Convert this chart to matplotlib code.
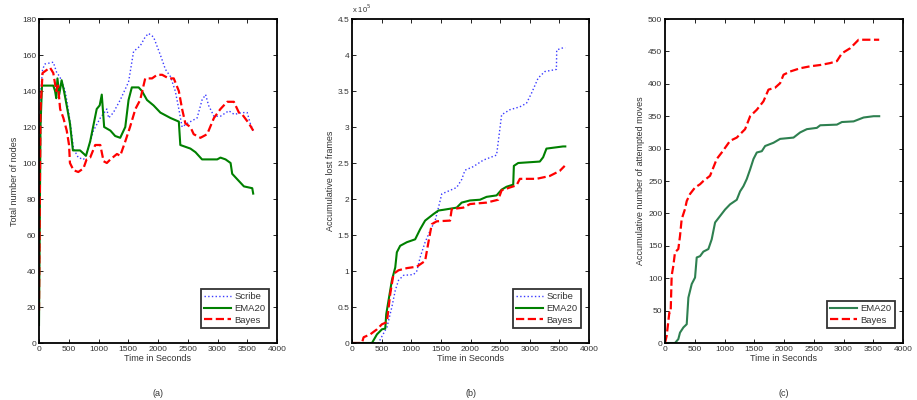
import numpy as np
import matplotlib
matplotlib.use("Agg")
import matplotlib.pyplot as plt
from matplotlib.ticker import FuncFormatter

plt.rcParams['font.family'] = ['Liberation Sans', 'DejaVu Sans']

# (a) total number of nodes
a_scribe_t = [0, 30, 60, 100, 240, 300, 350, 440, 490, 535, 580, 660, 750, 830, 915, 1030, 1140, 1170,
              1250, 1365, 1505, 1590, 1700, 1785, 1840, 1925, 2040, 2125, 2210, 2290, 2350, 2405, 2490,
              2657, 2740, 2800, 2850, 2940, 3050, 3190, 3280, 3415, 3500, 3550, 3600]
a_scribe_v = [12, 140, 152, 155, 156, 150, 148, 140, 130, 120, 108, 103, 102, 108, 118, 125, 130, 125,
              128, 135, 145, 162, 165, 170, 172, 170, 160, 152, 148, 140, 130, 120, 122,
              125, 135, 138, 132, 126, 126, 129, 127, 128, 128, 122, 118]
a_ema_t = [0, 25, 50, 240, 270, 290, 310, 340, 380, 420, 465, 520, 570, 690, 790, 860, 970, 1020, 1055,
           1095, 1200, 1280, 1365, 1450, 1505, 1560, 1675, 1730, 1815, 1925, 2040, 2210, 2350, 2375,
           2545, 2630, 2740, 2850, 2995, 3050, 3135, 3220, 3247, 3331, 3444, 3584, 3600]
a_ema_v = [10, 120, 143, 143, 140, 136, 147, 138, 146, 140, 132, 122, 107, 107, 104, 112, 130, 132, 138,
           120, 118, 115, 114, 120, 135, 142, 142, 140, 135, 132, 128, 125, 123, 110,
           108, 106, 102, 102, 102, 103, 102, 100, 94, 91, 87, 86, 83]
a_bayes_t = [0, 25, 60, 185, 240, 290, 320, 355, 410, 466, 505, 520, 580, 660, 747, 800, 860, 945, 1030,
             1085, 1140, 1200, 1310, 1365, 1450, 1530, 1620, 1700, 1785, 1900, 1985, 2070, 2180, 2265,
             2350, 2405, 2460, 2545, 2600, 2713, 2826, 2940, 3050, 3163, 3275, 3360, 3415, 3528, 3600]
a_bayes_v = [18, 130, 150, 153, 150, 140, 143, 130, 125, 118, 110, 100, 96, 95, 97, 102, 103, 110, 110,
             101, 100, 102, 105, 104, 112, 120, 130, 135, 147, 147, 149, 149, 147, 147,
             140, 130, 122, 120, 116, 114, 116, 125, 130, 134, 134, 128, 127, 122, 118]

# (b) accumulative lost frames
b_scribe_t = [0, 450, 477, 590, 673, 730, 785, 870, 1038, 1094, 1150, 1234, 1318, 1403, 1459, 1515,
              1599, 1767, 1851, 1907, 2048, 2216, 2440, 2480, 2525, 2665, 2833, 2945, 3030, 3142, 3254,
              3450, 3455, 3562, 3600]
b_scribe_v = [0, 0, 5000, 22000, 50000, 73000, 87000, 94000, 95000, 100000, 119000, 140000, 156000,
              170000, 188000, 207000, 210000, 216000, 227000, 240000, 245000, 254000, 261000, 287000,
              317000, 324000, 328000, 333000, 347000, 368000, 377000, 380000, 407000, 410000, 410000]
b_ema_t = [0, 337, 421, 505, 561, 578, 673, 730, 757, 813, 926, 1066, 1150, 1234, 1374, 1459, 1543,
           1767, 1851, 1992, 2160, 2272, 2440, 2525, 2608, 2721, 2732, 2805, 3170, 3226, 3282, 3562, 3600]
b_ema_v = [0, 0, 12000, 19000, 20000, 40000, 87000, 105000, 126000, 135000, 140000, 144000, 158000,
           170000, 179000, 184000, 185000, 188000, 195000, 198000, 199000, 203000, 205000, 213000,
           217000, 220000, 246000, 250000, 252000, 258000, 270000, 273000, 273000]
b_bayes_t = [0, 168, 196, 308, 421, 505, 589, 645, 701, 785, 926, 1094, 1234, 1290, 1346, 1430, 1655,
             1683, 1879, 1992, 2272, 2468, 2525, 2665, 2777, 2833, 3114, 3338, 3506, 3590]
b_bayes_v = [0, 0, 8000, 12000, 19000, 26000, 29000, 68000, 96000, 101000, 104000, 106000, 114000,
             140000, 165000, 169000, 170000, 186000, 188000, 193000, 195000, 199000, 212000, 216000,
             219000, 228000, 228000, 232000, 239000, 246000]

# (c) accumulative number of attempted moves
c_ema_t = [0, 168, 224, 252, 309, 365, 393, 449, 505, 533, 589, 645, 729, 785, 842, 926, 1010, 1094,
           1206, 1262, 1318, 1374, 1431, 1487, 1543, 1627, 1683, 1823, 1935, 2160, 2272, 2384, 2552,
           2609, 2889, 2973, 3170, 3338, 3506, 3600]
c_ema_v = [0, 0, 6, 16, 24, 29, 70, 91, 101, 132, 134, 141, 145, 160, 186, 196, 206, 214,
           221, 234, 242, 253, 268, 284, 294, 296, 304, 309, 315, 317, 325, 330, 332,
           336, 337, 341, 342, 348, 350, 350]
c_bayes_t = [0, 28, 73, 95, 112, 140, 168, 224, 252, 280, 337, 365, 421, 505, 589, 645, 757, 870, 954,
             1094, 1206, 1346, 1431, 1543, 1655, 1739, 1851, 1935, 1992, 2104, 2272, 2440, 2609, 2777,
             2889, 2973, 3114, 3254, 3600]
c_bayes_v = [0, 11, 47, 47, 104, 119, 140, 145, 165, 191, 207, 219, 230, 240, 245, 250, 258, 284, 294,
             312, 317, 330, 350, 360, 373, 391, 394, 401, 414, 419, 424, 427, 429, 432,
             435, 447, 455, 468, 468]

blue = '#3a3aff'
green = '#008000'
red = '#ff0000'
teal = '#2e8050'

fig = plt.figure(figsize=(9.17, 4.0), dpi=100)
W, H = 917.0, 400.0
boxes = [(39, 277), (352, 589), (665, 903)]
axes = []
for x0, x1 in boxes:
    ax = fig.add_axes([x0 / W, 1 - 343 / H, (x1 - x0) / W, (343 - 19) / H])
    axes.append(ax)


def style(ax):
    ax.set_xlim(0, 4000)
    ax.set_xticks(range(0, 4001, 500))
    ax.tick_params(direction='in', top=True, right=True, labelsize=6, length=3,
                   width=0.6, colors='black', labelcolor='#333333', pad=2)
    for s in ax.spines.values():
        s.set_linewidth(1.3)
    ax.set_xlabel('Time in Seconds', fontsize=6.5, color='#333333', labelpad=1)


ax = axes[0]
ax.plot(a_scribe_t, a_scribe_v, ':', color=blue, lw=1.0, label='Scribe')
ax.plot(a_ema_t, a_ema_v, '-', color=green, lw=1.5, label='EMA20')
ax.plot(a_bayes_t, a_bayes_v, '--', color=red, lw=1.6, label='Bayes')
ax.set_ylim(0, 180)
ax.set_yticks(range(0, 181, 20))
ax.set_ylabel('Total number of nodes', fontsize=6.5, color='#333333', labelpad=2)
style(ax)

ax = axes[1]
ax.plot(b_scribe_t, b_scribe_v, ':', color=blue, lw=1.0, label='Scribe')
ax.plot(b_ema_t, b_ema_v, '-', color=green, lw=1.5, label='EMA20')
ax.plot(b_bayes_t, b_bayes_v, '--', color=red, lw=1.6, label='Bayes')
ax.set_ylim(0, 450000)
ax.set_yticks(np.arange(0, 450001, 50000))
ax.yaxis.set_major_formatter(FuncFormatter(lambda v, p: '%g' % (v / 1e5)))
ax.text(0.0, 1.012, r'x 10$^5$', transform=ax.transAxes, fontsize=5.5, color='#333333',
        ha='left', va='bottom')
ax.set_ylabel('Accumulative lost frames', fontsize=6.5, color='#333333', labelpad=2)
style(ax)

ax = axes[2]
ax.plot(c_ema_t, c_ema_v, '-', color=teal, lw=1.5, label='EMA20')
ax.plot(c_bayes_t, c_bayes_v, '--', color=red, lw=1.6, label='Bayes')
ax.set_ylim(0, 500)
ax.set_yticks(range(0, 501, 50))
ax.set_ylabel('Accumulative number of attempted moves', fontsize=6.5, color='#333333', labelpad=2)
style(ax)

for ax in axes:
    leg = ax.legend(loc='lower right', bbox_to_anchor=(1 - 8 / 238, 15 / 324), borderaxespad=0,
                    fontsize=6.8, handlelength=2.8, frameon=True, fancybox=False,
                    borderpad=0.35, labelspacing=0.3, handletextpad=0.4)
    leg.get_frame().set_edgecolor('black')
    leg.get_frame().set_linewidth(1.3)
    for t in leg.get_texts():
        t.set_color('#333333')

for (x0, x1), lab in zip(boxes, ['(a)', '(b)', '(c)']):
    fig.text((x0 + x1) / 2 / W, 1 - 393 / H, lab, ha='center', va='center', fontsize=6.5, color='#333333')

fig.savefig('out.png', dpi=100)
